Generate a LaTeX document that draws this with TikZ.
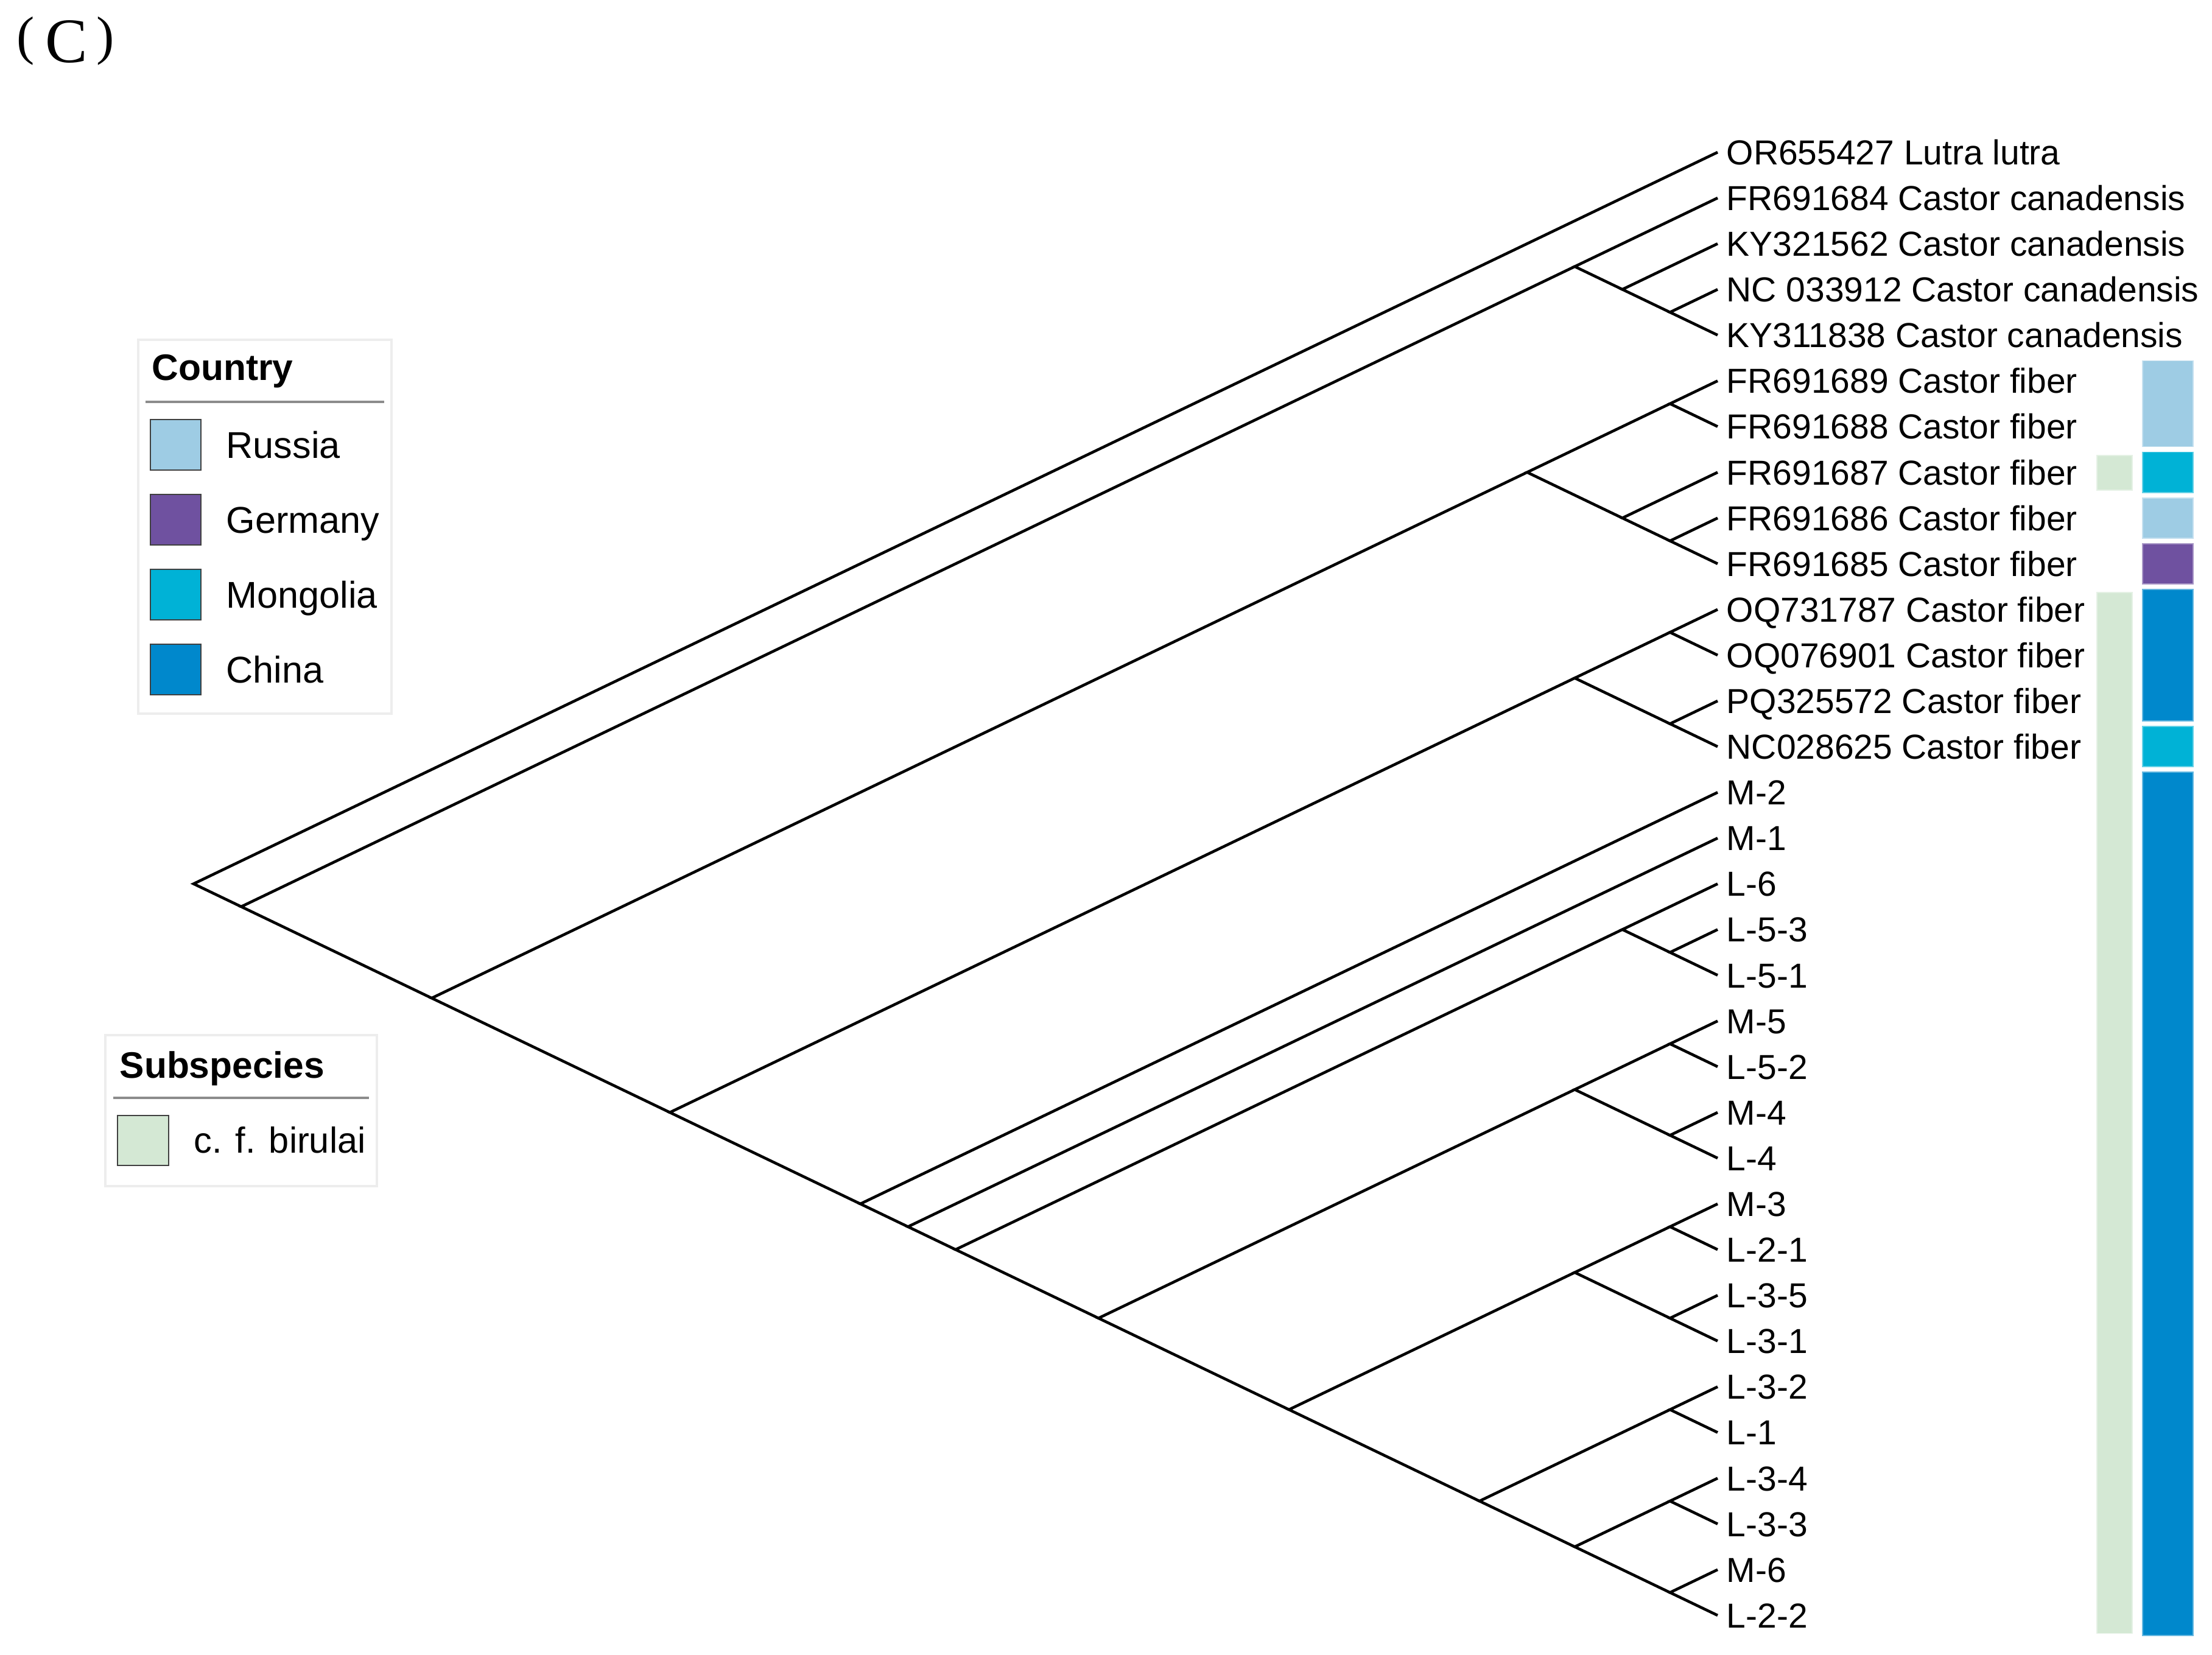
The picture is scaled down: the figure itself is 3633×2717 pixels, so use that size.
\documentclass[tikz,border=0pt]{standalone}
\usepackage{fontspec}
\setmainfont{Liberation Sans}
\newfontfamily\panelserif{Liberation Serif}
\definecolor{cRussia}{HTML}{9ECCE4}
\definecolor{cGermany}{HTML}{6F51A0}
\definecolor{cMongolia}{HTML}{00B2D6}
\definecolor{cChina}{HTML}{0088CC}
\definecolor{cBirulai}{HTML}{D4E8D4}
\tikzset{
  branch/.style={line width=1.3pt, line join=miter, line cap=butt, black},
  leaf/.style={anchor=base west, inner sep=0pt, xshift=0.14cm, yshift=-0.204cm, font=\fontsize{16.2}{19}\selectfont},
  legtitle/.style={anchor=base west, inner sep=0pt, font=\fontsize{17.2}{20}\selectfont\bfseries},
  leglab/.style={anchor=base west, inner sep=0pt, font=\fontsize{17.4}{20}\selectfont},
  swatch/.style={draw=black!75, line width=0.7pt},
  legbox/.style={draw=black!7, line width=1pt, fill=white},
  legrule/.style={draw=black!45, line width=1.1pt},
}
\newcommand{\tnd}[3]{\coordinate (#1) at ({2821-78.22*(#3-#2)},{250+37.545*(#2+#3)});}
\newcommand{\ccell}[3]{\fill[#3, draw=#3!60!white, line width=0.5pt] (3519,{250+75.09*#1-37.545+4.5}) rectangle (3602,{250+75.09*#2+37.545-4.5});}
\newcommand{\scell}[2]{\fill[cBirulai, draw=cBirulai!60!white, line width=0.5pt] (3444,{250+75.09*#1-37.545+10}) rectangle (3502,{250+75.09*#2+37.545-8});}
\begin{document}
\begin{tikzpicture}[x=0.01cm, y=-0.01cm]
\useasboundingbox (0,0) rectangle (3633,2717);
% panel label
\node[anchor=base west, inner sep=0pt, font=\panelserif\fontsize{29.6}{32}\selectfont] (panel) at (27,102)
  {\raisebox{0.14cm}{\fontsize{25}{28}\selectfont(}\hspace{0.18cm}C\hspace{0.14cm}\raisebox{0.14cm}{\fontsize{25}{28}\selectfont)}};
% leaves
\foreach \i/\lab in {0/{OR655427 Lutra lutra},1/{FR691684 Castor canadensis},2/{KY321562 Castor canadensis},3/{NC 033912 Castor canadensis},4/{KY311838 Castor canadensis},5/{FR691689 Castor fiber},6/{FR691688 Castor fiber},7/{FR691687 Castor fiber},8/{FR691686 Castor fiber},9/{FR691685 Castor fiber},10/{OQ731787 Castor fiber},11/{OQ076901 Castor fiber},12/{PQ325572 Castor fiber},13/{NC028625 Castor fiber},14/{M-2},15/{M-1},16/{L-6},17/{L-5-3},18/{L-5-1},19/{M-5},20/{L-5-2},21/{M-4},22/{L-4},23/{M-3},24/{L-2-1},25/{L-3-5},26/{L-3-1},27/{L-3-2},28/{L-1},29/{L-3-4},30/{L-3-3},31/{M-6},32/{L-2-2}}{
  \tnd{t\i}{\i}{\i}
  \node[leaf] (n\i) at (t\i) {\lab};
}
% internal nodes
\tnd{xroot}{0}{32}
\tnd{xA}{1}{32}
\tnd{xC}{1}{4}
\tnd{xD}{2}{4}
\tnd{xE}{3}{4}
\tnd{xF}{5}{32}
\tnd{xG}{5}{9}
\tnd{xGa}{5}{6}
\tnd{xGb}{7}{9}
\tnd{xGc}{8}{9}
\tnd{xH}{10}{32}
\tnd{xI}{10}{13}
\tnd{xIa}{10}{11}
\tnd{xIb}{12}{13}
\tnd{xJ}{14}{32}
\tnd{xK}{15}{32}
\tnd{xL}{16}{32}
\tnd{xM}{16}{18}
\tnd{xMa}{17}{18}
\tnd{xN}{19}{32}
\tnd{xO}{19}{22}
\tnd{xOa}{19}{20}
\tnd{xOb}{21}{22}
\tnd{xP}{23}{32}
\tnd{xQ}{23}{26}
\tnd{xQa}{23}{24}
\tnd{xQb}{25}{26}
\tnd{xR}{27}{32}
\tnd{xRa}{27}{28}
\tnd{xS}{29}{32}
\tnd{xSa}{29}{30}
\tnd{xSb}{31}{32}
% branches
\draw[branch] (t0) -- (xroot) -- (xA);
\draw[branch] (xC) -- (xA) -- (xF);
\draw[branch] (t1) -- (xC) -- (xD);
\draw[branch] (t2) -- (xD) -- (xE);
\draw[branch] (t3) -- (xE) -- (t4);
\draw[branch] (xG) -- (xF) -- (xH);
\draw[branch] (xGa) -- (xG) -- (xGb);
\draw[branch] (t5) -- (xGa) -- (t6);
\draw[branch] (t7) -- (xGb) -- (xGc);
\draw[branch] (t8) -- (xGc) -- (t9);
\draw[branch] (xI) -- (xH) -- (xJ);
\draw[branch] (xIa) -- (xI) -- (xIb);
\draw[branch] (t10) -- (xIa) -- (t11);
\draw[branch] (t12) -- (xIb) -- (t13);
\draw[branch] (t14) -- (xJ) -- (xK);
\draw[branch] (t15) -- (xK) -- (xL);
\draw[branch] (xM) -- (xL) -- (xN);
\draw[branch] (t16) -- (xM) -- (xMa);
\draw[branch] (t17) -- (xMa) -- (t18);
\draw[branch] (xO) -- (xN) -- (xP);
\draw[branch] (xOa) -- (xO) -- (xOb);
\draw[branch] (t19) -- (xOa) -- (t20);
\draw[branch] (t21) -- (xOb) -- (t22);
\draw[branch] (xQ) -- (xP) -- (xR);
\draw[branch] (xQa) -- (xQ) -- (xQb);
\draw[branch] (t23) -- (xQa) -- (t24);
\draw[branch] (t25) -- (xQb) -- (t26);
\draw[branch] (xRa) -- (xR) -- (xS);
\draw[branch] (t27) -- (xRa) -- (t28);
\draw[branch] (xSa) -- (xS) -- (xSb);
\draw[branch] (t29) -- (xSa) -- (t30);
\draw[branch] (t31) -- (xSb) -- (t32);
% annotation columns
\scell{7}{7}
\scell{10}{32}
\ccell{5}{6}{cRussia}
\ccell{7}{7}{cMongolia}
\ccell{8}{8}{cRussia}
\ccell{9}{9}{cGermany}
\ccell{10}{12}{cChina}
\ccell{13}{13}{cMongolia}
\ccell{14}{32}{cChina}
% Country legend
\draw[legbox] (227,558) rectangle (643,1172);
\node[legtitle] (ctitle) at (249,624) {Country};
\draw[legrule] (239,660) -- (631,660);
\draw[swatch, fill=cRussia] (247,689) rectangle (330,772);
\draw[swatch, fill=cGermany] (247,812) rectangle (330,895);
\draw[swatch, fill=cMongolia] (247,935) rectangle (330,1018);
\draw[swatch, fill=cChina] (247,1058) rectangle (330,1141);
\node[leglab] (lrus) at (371,752) {Russia};
\node[leglab] (lger) at (371,875) {Germany};
\node[leglab] (lmon) at (371,998) {Mongolia};
\node[leglab] (lchi) at (371,1121) {China};
% Subspecies legend
\draw[legbox] (173,1700) rectangle (619,1948);
\node[legtitle] (stitle) at (196,1770) {Subspecies};
\draw[legrule] (186,1803) -- (606,1803);
\draw[swatch, fill=cBirulai] (193,1832) rectangle (277,1914);
\node[leglab, font=\fontsize{16.9}{20}\selectfont] (lbir) at (318,1893) {c. f. birulai};
\end{tikzpicture}
\end{document}
